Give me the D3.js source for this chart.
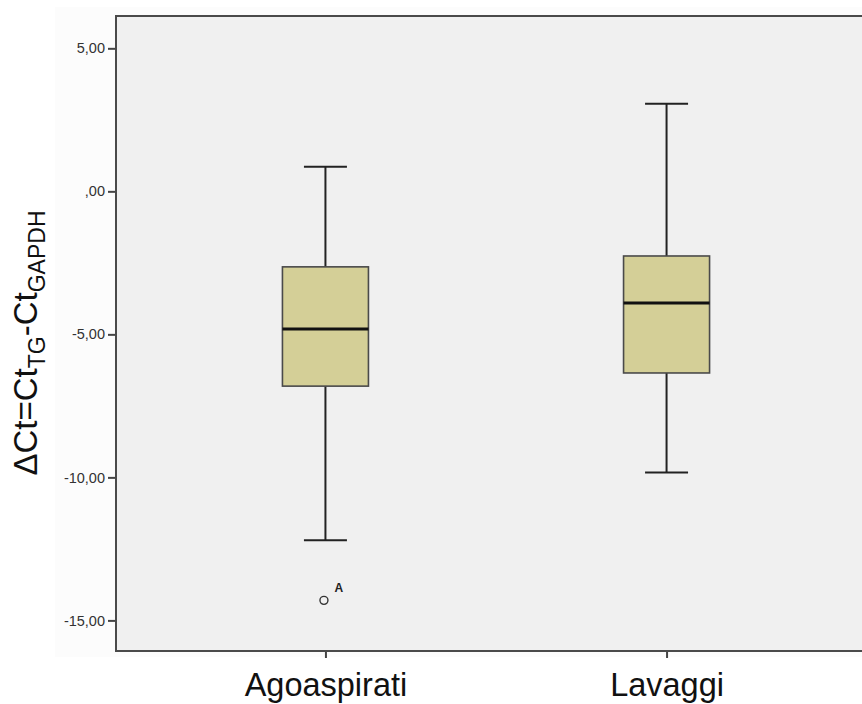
<!DOCTYPE html>
<html>
<head>
<meta charset="utf-8">
<script src="https://cdn.jsdelivr.net/npm/d3@7"></script>
<style>
  html, body { margin: 0; padding: 0; background: #ffffff; }
  svg { display: block; font-family: "Liberation Sans", Arial, sans-serif; }
</style>
</head>
<body>
<svg id="chart" width="862" height="704"></svg>
<script>
// Groups and their five-number summaries (ΔCt values)
const categories = ["Agoaspirati", "Lavaggi"];
const whiskerLow = [-12.20, -9.83];
const q1 = [-6.81, -6.35];
const medians = [-4.81, -3.90];
const q3 = [-2.64, -2.26];
const whiskerHigh = [0.86, 3.06];
// Outliers: group index, value, case label
const outlierGroup = [0];
const outlierValue = [-14.30];
const outlierLabel = ["A"];
const yTicks = [5, 0, -5, -10, -15];

const boxes = categories.map((c, i) => ({
  name: c, lo: whiskerLow[i], q1: q1[i], med: medians[i], q3: q3[i], hi: whiskerHigh[i]
}));
const outliers = outlierGroup.map((g, i) => ({ group: categories[g], value: outlierValue[i], label: outlierLabel[i] }));

const svg = d3.select("#chart");
const plot = { left: 116, top: 16, right: 876, bottom: 651 };

// Faint outer chart frame
svg.append("rect")
  .attr("x", 55).attr("y", 7)
  .attr("width", 862 - 55).attr("height", 657 - 7)
  .attr("fill", "#fcfcfc");

// Plot area background
svg.append("rect")
  .attr("x", plot.left).attr("y", plot.top)
  .attr("width", plot.right - plot.left).attr("height", plot.bottom - plot.top)
  .attr("fill", "#f0f0f0");

const y = d3.scaleLinear().domain([-16.07, 6.13]).range([plot.bottom, plot.top]);
const x = d3.scalePoint().domain(categories).range([plot.left, plot.right]).padding(0.614);

const boxW = 86, capW = 43;
// Comma decimal, plain hyphen minus, no leading zero
const locale = d3.formatLocale({ decimal: ",", thousands: ".", grouping: [3], currency: ["", ""], minus: "-" });
const fmt = v => locale.format(".2f")(v).replace(/^0,/, ",").replace(/^-0,/, "-,");

// Y axis
const yAxis = svg.append("g")
  .attr("transform", `translate(${plot.left},0)`)
  .call(d3.axisLeft(y).tickValues(yTicks).tickSize(8).tickPadding(3).tickFormat(fmt));
yAxis.select(".domain").remove();
yAxis.selectAll(".tick line").attr("stroke", "#444").attr("stroke-width", 2);
yAxis.selectAll(".tick text")
  .attr("fill", "#333").style("font-size", "14.5px")
  .style("font-family", "'Liberation Sans', Arial, sans-serif");

// X axis
const xAxis = svg.append("g")
  .attr("transform", `translate(0,${plot.bottom})`)
  .call(d3.axisBottom(x).tickSize(7).tickPadding(15));
xAxis.select(".domain").remove();
xAxis.selectAll(".tick line").attr("stroke", "#444").attr("stroke-width", 2);
xAxis.selectAll(".tick text")
  .attr("fill", "#111").style("font-size", "32.5px")
  .style("font-family", "'Liberation Sans', Arial, sans-serif");

// Plot frame (left, top, bottom)
svg.append("path")
  .attr("d", d3.line()([[plot.right, plot.top], [plot.left, plot.top], [plot.left, plot.bottom], [plot.right, plot.bottom]]))
  .attr("fill", "none").attr("stroke", "#4a4a4a").attr("stroke-width", 2);

// Boxes
const g = svg.append("g").selectAll("g").data(boxes).join("g");

// Whisker stems
g.append("line")
  .attr("x1", d => x(d.name)).attr("x2", d => x(d.name))
  .attr("y1", d => y(d.hi)).attr("y2", d => y(d.q3))
  .attr("stroke", "#222").attr("stroke-width", 2);
g.append("line")
  .attr("x1", d => x(d.name)).attr("x2", d => x(d.name))
  .attr("y1", d => y(d.q1)).attr("y2", d => y(d.lo))
  .attr("stroke", "#222").attr("stroke-width", 2);
// Whisker caps
g.append("line")
  .attr("x1", d => x(d.name) - capW / 2).attr("x2", d => x(d.name) + capW / 2)
  .attr("y1", d => y(d.hi)).attr("y2", d => y(d.hi))
  .attr("stroke", "#222").attr("stroke-width", 2);
g.append("line")
  .attr("x1", d => x(d.name) - capW / 2).attr("x2", d => x(d.name) + capW / 2)
  .attr("y1", d => y(d.lo)).attr("y2", d => y(d.lo))
  .attr("stroke", "#222").attr("stroke-width", 2);
// IQR box
g.append("rect")
  .attr("x", d => x(d.name) - boxW / 2).attr("width", boxW)
  .attr("y", d => y(d.q3)).attr("height", d => y(d.q1) - y(d.q3))
  .attr("fill", "#d4cf97").attr("stroke", "#4a4a4a").attr("stroke-width", 1.6);
// Median
g.append("line")
  .attr("x1", d => x(d.name) - boxW / 2).attr("x2", d => x(d.name) + boxW / 2)
  .attr("y1", d => y(d.med)).attr("y2", d => y(d.med))
  .attr("stroke", "#111").attr("stroke-width", 3);

// Outliers
const o = svg.append("g").selectAll("g").data(outliers).join("g");
o.append("circle")
  .attr("cx", d => x(d.group) - 1.5).attr("cy", d => y(d.value)).attr("r", 4)
  .attr("fill", "none").attr("stroke", "#333").attr("stroke-width", 1.4);
o.append("text")
  .attr("x", d => x(d.group) + 9).attr("y", d => y(d.value) - 8)
  .attr("fill", "#222").style("font-size", "12px").style("font-weight", "600")
  .text(d => d.label);

// Y axis title: ΔCt=Ct_TG-Ct_GAPDH
const title = svg.append("text")
  .attr("transform", "translate(37,343) rotate(-90)")
  .attr("text-anchor", "middle")
  .attr("fill", "#111")
  .style("font-size", "33px");
title.append("tspan").text("ΔCt=Ct");
title.append("tspan").attr("dy", 8).style("font-size", "23px").text("TG");
title.append("tspan").attr("dy", -8).text("-Ct");
title.append("tspan").attr("dy", 8).style("font-size", "23px").text("GAPDH");
</script>
</body>
</html>
